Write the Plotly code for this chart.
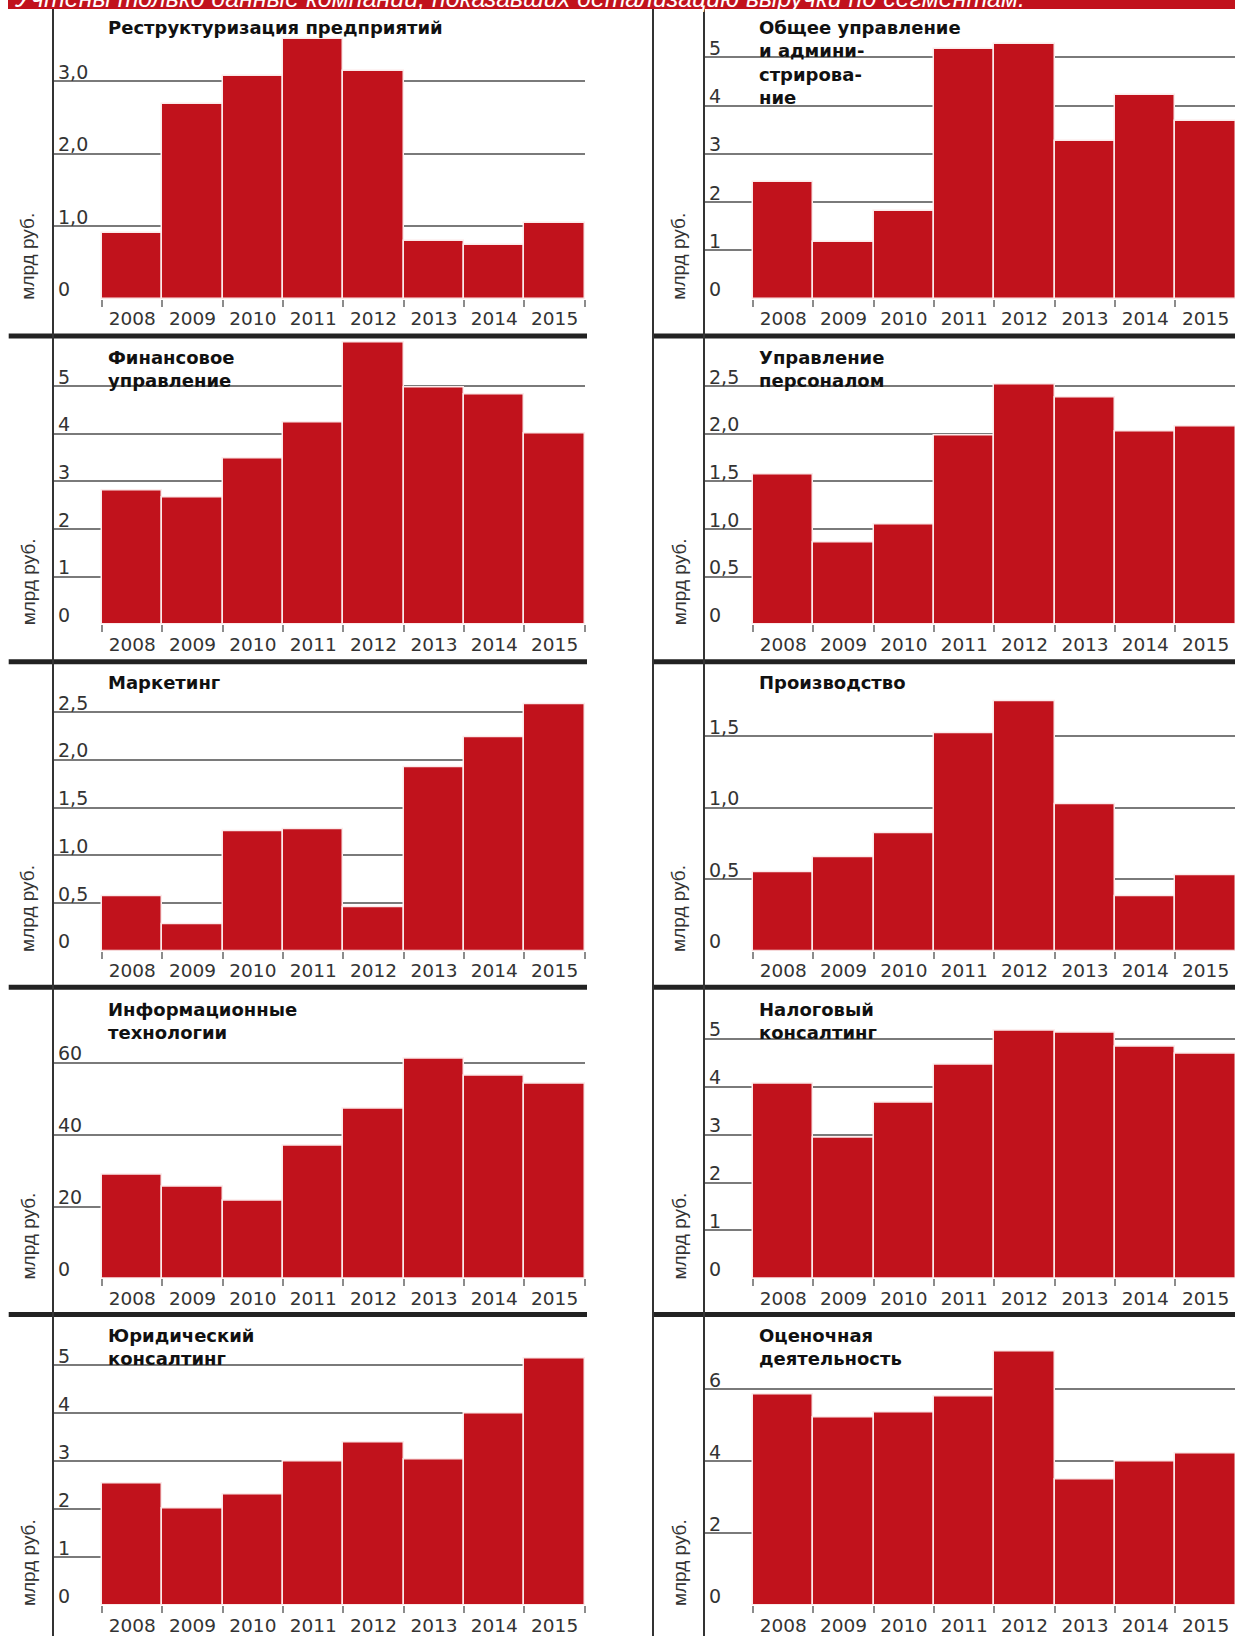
import plotly.graph_objects as go

W, H = 1235, 1638

# ---------------- data ----------------
years = ["2008", "2009", "2010", "2011", "2012", "2013", "2014", "2015"]

restructuring = [0.91, 2.69, 3.08, 3.58, 3.14, 0.79, 0.74, 1.05]
general_mgmt = [2.42, 1.17, 1.82, 5.18, 5.28, 3.26, 4.22, 3.68]
financial = [2.80, 2.67, 3.47, 4.23, 5.91, 4.97, 4.83, 4.01]
hr = [1.57, 0.86, 1.05, 1.98, 2.52, 2.38, 2.02, 2.08]
marketing = [0.57, 0.28, 1.25, 1.27, 0.46, 1.92, 2.24, 2.58]
production = [0.55, 0.65, 0.82, 1.52, 1.74, 1.02, 0.38, 0.53]
it = [28.9, 25.6, 21.7, 36.9, 47.2, 61.0, 56.5, 54.1]
tax = [4.06, 2.94, 3.66, 4.46, 5.17, 5.13, 4.84, 4.69]
legal = [2.53, 2.02, 2.31, 3.00, 3.39, 3.04, 4.00, 5.15]
valuation = [5.85, 5.21, 5.37, 5.79, 7.06, 3.50, 4.00, 4.23]

titles = [
    ["Реструктуризация предприятий"],
    ["Общее управление", "и админи-", "стрирова-", "ние"],
    ["Финансовое", "управление"],
    ["Управление", "персоналом"],
    ["Маркетинг"],
    ["Производство"],
    ["Информационные", "технологии"],
    ["Налоговый", "консалтинг"],
    ["Юридический", "консалтинг"],
    ["Оценочная", "деятельность"],
]

ticks_dec_3 = [0, 1, 2, 3]
ticks_dec_3_text = ["0", "1,0", "2,0", "3,0"]
ticks_int_5 = [0, 1, 2, 3, 4, 5]
ticks_int_5_text = ["0", "1", "2", "3", "4", "5"]
ticks_half_25 = [0, 0.5, 1, 1.5, 2, 2.5]
ticks_half_25_text = ["0", "0,5", "1,0", "1,5", "2,0", "2,5"]
ticks_half_15 = [0, 0.5, 1, 1.5]
ticks_half_15_text = ["0", "0,5", "1,0", "1,5"]
ticks_20_60 = [0, 20, 40, 60]
ticks_20_60_text = ["0", "20", "40", "60"]
ticks_2_6 = [0, 2, 4, 6]
ticks_2_6_text = ["0", "2", "4", "6"]

y_unit = "млрд руб."
note = "Учтены только данные компаний, показавших детализацию выручки по сегментам."

series = [restructuring, general_mgmt, financial, hr, marketing,
          production, it, tax, legal, valuation]
tickv = [ticks_dec_3, ticks_int_5, ticks_int_5, ticks_half_25, ticks_half_25,
         ticks_half_15, ticks_20_60, ticks_int_5, ticks_int_5, ticks_2_6]
tickt = [ticks_dec_3_text, ticks_int_5_text, ticks_int_5_text, ticks_half_25_text,
         ticks_half_25_text, ticks_half_15_text, ticks_20_60_text, ticks_int_5_text,
         ticks_int_5_text, ticks_2_6_text]
ymax = [4, 6, 6, 3, 3, 2, 80, 6, 6, 8]

# ---------------- geometry (pixels) ----------------
row_top = [9, 339, 665, 992, 1319]
row_zero = [299, 625, 952, 1280, 1607]
sep_y = [336.5, 662.5, 988.5, 1316]
col_axis = [53, 704]
col_right = [585, 1235]
col_bar_left = [102, 753]
bar_w = 60.35
col_sep = [(8.7, 587), (653, 1235)]

RED = "#C1121C"
GRID = "#7a7a7a"
TXT = "#333333"


def px_x(x):
    return x / W


def px_y(y):
    return 1 - y / H


fig = go.Figure()
annotations = []
shapes = []
layout_axes = {}

for i in range(10):
    row, col = i // 2, i % 2
    n = i + 1
    xs = "" if n == 1 else str(n)
    fig.add_trace(go.Bar(
        x=years, y=series[i], xaxis="x" + xs, yaxis="y" + xs,
        marker=dict(color=RED, line=dict(color="#fbeaea", width=1.5)),
        hoverinfo="x+y",
    ))
    lo = -0.5 - (col_bar_left[col] - col_axis[col]) / bar_w
    hi = -0.5 + (col_right[col] - col_bar_left[col]) / bar_w
    layout_axes["xaxis" + xs] = dict(
        domain=[px_x(col_axis[col]), px_x(col_right[col])],
        anchor="y" + xs, type="category", range=[lo, hi],
        tickson="boundaries", ticks="outside", ticklen=7, tickwidth=2,
        tickcolor="#8c8c8c", showgrid=False, showline=False, zeroline=False,
        ticklabelstandoff=7,
        tickfont=dict(family="DejaVu Sans", size=18.5, color=TXT),
        fixedrange=True,
    )
    layout_axes["yaxis" + xs] = dict(
        domain=[px_y(row_zero[row]), px_y(row_top[row])],
        anchor="x" + xs, range=[0, ymax[i]],
        tickvals=tickv[i], ticktext=tickt[i],
        showgrid=True, gridcolor=GRID, gridwidth=1.6,
        zeroline=False, showline=False, ticks="",
        ticklabelposition="inside", ticklabelshift=-9, ticklabelstandoff=2,
        ticklabeloverflow="allow",
        tickfont=dict(family="DejaVu Sans", size=19, color=TXT),
        fixedrange=True,
    )
    # panel title (one text block, lines wrapped)
    annotations.append(dict(
        text="<br>".join(titles[i]), xref="paper", yref="paper",
        x=px_x(col_axis[col] + 54), y=px_y(row_top[row] + 7),
        xanchor="left", yanchor="top", align="left", showarrow=False,
        borderpad=0,
        font=dict(family="DejaVu Sans", size=18, color="#111111", weight="bold"),
    ))
    # unit label
    annotations.append(dict(
        text=y_unit, xref="paper", yref="paper",
        x=px_x(col_axis[col] - 25), y=px_y(row_zero[row] - 42),
        xanchor="center", yanchor="middle", textangle=-90, showarrow=False,
        font=dict(family="Liberation Sans Narrow, Liberation Sans", size=19, color=TXT),
    ))

# thick separators between rows
for y in sep_y:
    for (x0, x1) in col_sep:
        shapes.append(dict(type="line", xref="paper", yref="paper",
                           x0=px_x(x0), x1=px_x(x1), y0=px_y(y), y1=px_y(y),
                           line=dict(color="#222222", width=5)))
# vertical rules
for x in [53, 653, 704]:
    shapes.append(dict(type="line", xref="paper", yref="paper",
                       x0=px_x(x), x1=px_x(x), y0=px_y(9), y1=0,
                       line=dict(color="#333333", width=2)))
# red strip on top
shapes.append(dict(type="rect", xref="paper", yref="paper",
                   x0=px_x(8), x1=1, y0=px_y(9), y1=1.01,
                   fillcolor=RED, line=dict(width=0), layer="above"))
annotations.append(dict(
    text="<i>" + note + "</i>", xref="paper", yref="paper",
    x=px_x(12), y=px_y(14), xanchor="left", yanchor="bottom", showarrow=False,
    font=dict(family="Liberation Sans", size=25, color="white"),
))

fig.update_layout(
    width=W, height=H, margin=dict(l=0, r=0, t=0, b=0),
    paper_bgcolor="white", plot_bgcolor="rgba(0,0,0,0)",
    showlegend=False, bargap=0,
    annotations=annotations, shapes=shapes, **layout_axes,
)

fig.write_html("out.html")
